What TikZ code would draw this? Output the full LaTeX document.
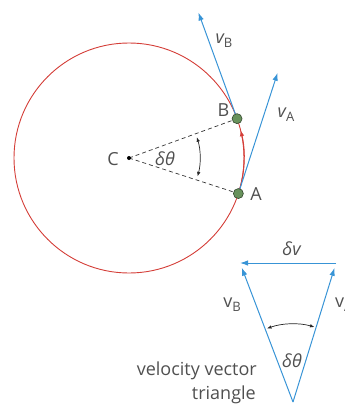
\documentclass[tikz,border=0pt]{standalone}
\usepackage{fontspec}
\setmainfont{Open Sans}
\usetikzlibrary{arrows.meta,calc}
\definecolor{redc}{RGB}{212,62,56}
\definecolor{bluec}{RGB}{56,148,214}
\definecolor{greenc}{RGB}{104,146,92}
\definecolor{greend}{RGB}{50,70,45}
\definecolor{textc}{RGB}{80,80,80}
\newcommand{\vsub}[2]{#1\raisebox{-0.22em}{\fontsize{13}{13}\selectfont\upshape #2}}
\begin{document}
\begin{tikzpicture}[x=1pt,y=-1pt, font=\fontsize{18}{22}\selectfont, text=textc,
  vec/.style={bluec, line width=1pt, -{Latex[length=8pt,width=5.5pt]}},
  ptdot/.style={circle, draw=greend, fill=greenc, minimum size=10pt, inner sep=0pt, line width=0.6pt},
  lab/.style={inner sep=0pt},
  dblarr/.style={black!85, line width=0.7pt, {Latex[length=4.5pt,width=3.5pt]}-{Latex[length=4.5pt,width=3.5pt]}}]
\useasboundingbox (0,0) rectangle (345,407);
% circle part
\coordinate (C) at (129,158);
\draw[redc, line width=0.9pt] (C) circle [radius=115];
\coordinate (A) at ($(C)+(18:115)$);
\coordinate (B) at ($(C)+(-20:115)$);
\draw[redc, line width=1pt, -{Latex[length=6pt,width=4.5pt]}] (A) arc[start angle=18, end angle=-14, radius=115];
\draw[gray!40!black, line width=0.7pt, dash pattern=on 4pt off 3pt] (C) -- (A) (C) -- (B);
\coordinate (d1) at ($(C)+(-17:71)$);
\draw[dblarr] (d1) arc[start angle=-17, end angle=15, radius=71];
\coordinate (vBt) at ($(B)+(250:113)$);
\coordinate (vAt) at ($(A)+(288:127)$);
\draw[vec] (B) -- (vBt);
\draw[vec] (A) -- (vAt);
\node[ptdot] (Bn) at (B) {};
\node[ptdot] (An) at (A) {};
\node[circle, fill=black, inner sep=0pt, minimum size=4pt] (Cn) at (C) {};
\node[lab] (Cl) at (113,159) {C};
\node[lab] (Bl) at (223.5,110.5) {B};
\node[lab] (Al) at (256,194) {A};
\node[lab] (dth) at (165,159) {\itshape δθ};
\node[lab] (vBl) at (224,41) {\vsub{{\itshape v}}{B}};
\node[lab] (vAl) at (286,115) {\vsub{{\itshape v}}{A}};
% velocity triangle
\coordinate (T1) at (240,263);
\coordinate (T2) at (336,263);
\coordinate (T3) at (293,402);
\draw[vec, shorten >=5pt] (T3) -- (T1);
\draw[vec, shorten >=5pt] (T3) -- (T2);
\draw[vec] (T2) -- (T1);
\coordinate (d2) at ($(T3)+(-109.5:78)$);
\draw[dblarr] (d2) arc[start angle=-109.5, end angle=-74, radius=78];
\node[lab] (dv) at (291.5,249) {\itshape δv};
\node[lab] (vBt2) at (232,305) {\vsub{v}{B}};
\node[lab, anchor=west] (vAt2) at (335,305) {\vsub{v}{A}};
\node[lab] (dth2) at (292,361) {\itshape δθ};
\node[lab, anchor=base east] (cap1) at (257,375.5) {velocity vector};
\node[lab, anchor=base east] (cap2) at (256,399.5) {triangle};
\end{tikzpicture}
\end{document}
